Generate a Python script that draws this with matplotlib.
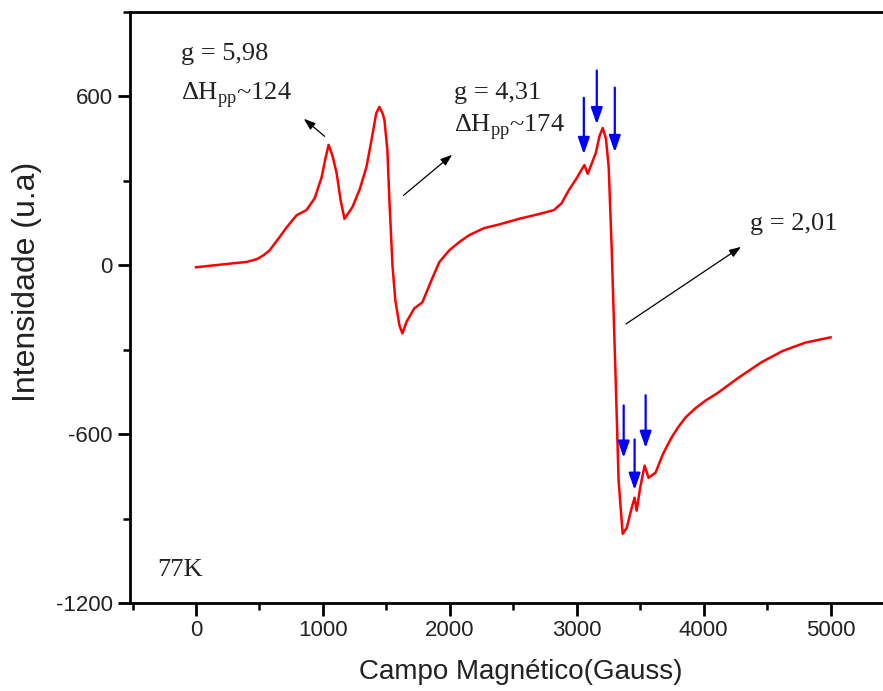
import matplotlib
matplotlib.use("Agg")
import matplotlib.pyplot as plt

plt.rcParams['mathtext.fontset'] = 'custom'
plt.rcParams['mathtext.rm'] = 'Liberation Serif'
plt.rcParams['axes.unicode_minus'] = False

# EPR spectrum at 77K
campo = [0, 250, 400, 480, 530, 580, 650, 715, 793, 870, 935, 990, 1020, 1045, 1075, 1108, 1140,
         1170, 1233, 1290, 1343, 1383, 1420, 1445, 1470, 1485, 1508, 1524, 1548, 1571,
         1603, 1626, 1660, 1720, 1783, 1862, 1917, 1995, 2073, 2152, 2270, 2388, 2545,
         2702, 2820, 2880, 2938, 3000, 3060, 3087, 3150, 3180, 3205, 3230, 3252, 3276,
         3307, 3330, 3362, 3394, 3433, 3456, 3472, 3500, 3535, 3566, 3621, 3680, 3747,
         3800, 3857, 3930, 4014, 4116, 4273, 4454, 4620, 4800, 5000]
intensidade = [-7, 5, 12, 22, 35, 53, 95, 135, 178, 196, 238, 313, 380, 428, 390, 328, 230,
               165, 207, 270, 349, 445, 540, 563, 540, 516, 409, 231, 0, -125,
               -214, -242, -200, -153, -132, -46, 11, 53, 82, 107, 132, 145, 165,
               182, 196, 220, 267, 310, 356, 325, 399, 460, 488, 450, 349, 53,
               -409, -765, -954, -933, -862, -826, -872, -790, -712, -755, -737, -670, -612,
               -575, -541, -510, -481, -452, -400, -345, -305, -275, -256]

# blue markers: x, arrow top, arrow tip
setas_x = [3056, 3158, 3300, 3370, 3456, 3543]
setas_topo = [605, 702, 641, -488, -609, -452]
setas_ponta = [385, 491, 392, -694, -808, -659]

fig = plt.figure(figsize=(8.83, 6.91), dpi=100)
ax = fig.add_axes([130/883, 88/691, 764/883, 591/691])

ax.plot(campo, intensidade, color='red', lw=1.8)

for x, y0, y1 in zip(setas_x, setas_topo, setas_ponta):
    ax.annotate('', xy=(x, y1), xytext=(x, y0),
                arrowprops=dict(arrowstyle='-|>,head_length=1.0,head_width=0.35',
                                color='blue', lw=1.6))

# black arrows pointing to the labels
preto = dict(arrowstyle='-|>,head_length=0.7,head_width=0.25', color='black', lw=0.9)
ax.annotate('', xy=(833, 527), xytext=(1030, 452), arrowprops=preto)
ax.annotate('', xy=(2035, 399), xytext=(1618, 242), arrowprops=preto)
ax.annotate('', xy=(4313, 71), xytext=(3370, -214), arrowprops=preto)

serif = dict(family='Liberation Serif', fontsize=19, color='#222222')
ax.text(-118, 730, 'g = 5,98', **serif)
ax.text(-118, 588, r'ΔH$_{\mathrm{pp}}$~124', **serif)
ax.text(2035, 591, 'g = 4,31', **serif)
ax.text(2035, 477, r'ΔH$_{\mathrm{pp}}$~174', **serif)
ax.text(4368, 125, 'g = 2,01', **serif)
ax.text(-306, -1104, '77K', **serif)

ax.set_xlim(-520, 5480)
ax.set_ylim(-1200, 900)
ax.set_xticks([0, 1000, 2000, 3000, 4000, 5000])
ax.set_xticks([-500, 500, 1500, 2500, 3500, 4500, 5500], minor=True)
ax.set_yticks([-1200, -600, 0, 600])
ax.set_yticks([-900, -300, 300, 900], minor=True)

for s in ax.spines.values():
    s.set_linewidth(2)
ax.tick_params(which='major', direction='out', length=9, width=2, labelsize=16,
               colors='black', labelcolor='#222222')
ax.tick_params(which='minor', direction='out', length=5, width=1.8)
for lab in ax.get_xticklabels() + ax.get_yticklabels():
    lab.set_family('Liberation Sans')

ax.set_xlabel('Campo Magnético(Gauss)', family='Liberation Sans', fontsize=20,
              color='#222222')
ax.set_ylabel('Intensidade (u.a)', family='Liberation Sans', fontsize=23,
              color='#222222')
ax.xaxis.set_label_coords((521 - 130) / 764, -(659 - 603) / 591)
ax.yaxis.set_label_coords((42 - 130) / 764, (603 - 282) / 591)

fig.savefig('out.png', dpi=100)
